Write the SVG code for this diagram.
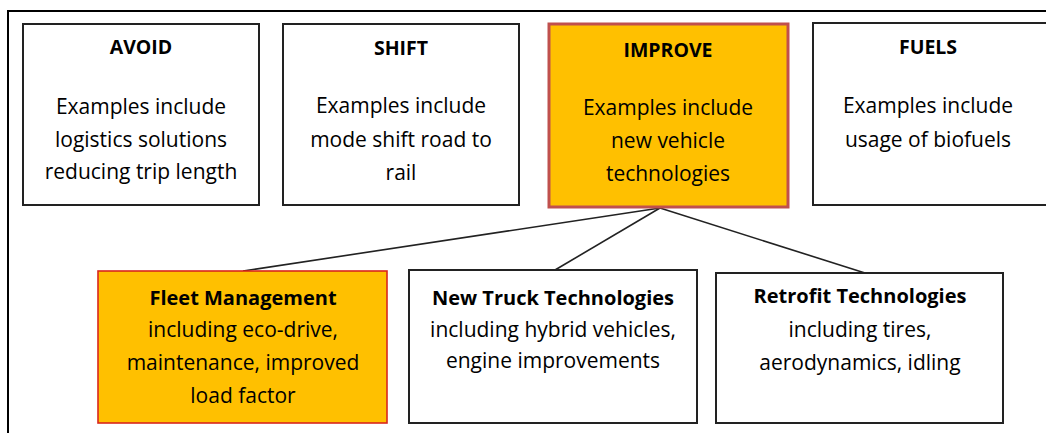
<svg xmlns="http://www.w3.org/2000/svg" width="1046" height="433" viewBox="0 0 1046 433">
  <style>
    .frame { fill: none; stroke: #000; stroke-width: 2; }
    .box { fill: #fff; stroke: #222; stroke-width: 2; }
    .hl { fill: #ffc000; stroke: #c0504d; stroke-width: 3; }
    .hl2 { fill: #ffc000; stroke: #d9261c; stroke-width: 1.6; }
    .link { stroke: #222; stroke-width: 1.6; fill: none; }
    text { font-family: "Open Sans", "Liberation Sans", sans-serif; font-size: 21px; fill: #000; text-anchor: middle; }
    .t { font-weight: bold; font-size: 19.5px; }
    .tb { font-weight: bold; font-size: 20px; }
  </style>
  <rect class="frame" x="8" y="11" width="1060" height="440"/>
  <g id="connectors">
    <line class="link" x1="660" y1="208" x2="243" y2="271"/>
    <line class="link" x1="660" y1="208" x2="555" y2="270"/>
    <line class="link" x1="660" y1="208" x2="865" y2="273"/>
  </g>
  <g id="avoid">
    <rect class="box" x="23" y="24" width="236" height="181"/>
    <text class="t" x="141" y="54">AVOID</text>
    <text x="141" y="114">Examples include</text>
    <text x="141" y="147">logistics solutions</text>
    <text x="141" y="179">reducing trip length</text>
  </g>
  <g id="shift">
    <rect class="box" x="283" y="24" width="236" height="181"/>
    <text class="t" x="401" y="55">SHIFT</text>
    <text x="401" y="113">Examples include</text>
    <text x="401" y="147">mode shift road to</text>
    <text x="401" y="180">rail</text>
  </g>
  <g id="improve">
    <rect class="hl" x="549" y="24" width="239" height="183"/>
    <text class="t" x="668" y="57">IMPROVE</text>
    <text x="668" y="115">Examples include</text>
    <text x="668" y="148">new vehicle</text>
    <text x="668" y="181">technologies</text>
  </g>
  <g id="fuels">
    <rect class="box" x="813" y="23" width="236" height="182"/>
    <text class="t" x="928" y="54">FUELS</text>
    <text x="928" y="113">Examples include</text>
    <text x="928" y="147">usage of biofuels</text>
  </g>
  <g id="fleet">
    <rect class="hl2" x="98" y="271" width="289" height="152"/>
    <text class="tb" x="243" y="305">Fleet Management</text>
    <text x="243" y="337">including eco-drive,</text>
    <text x="243" y="370">maintenance, improved</text>
    <text x="243" y="403">load factor</text>
  </g>
  <g id="newtruck">
    <rect class="box" x="409" y="270" width="288" height="153"/>
    <text class="tb" x="553" y="305">New Truck Technologies</text>
    <text x="553" y="337">including hybrid vehicles,</text>
    <text x="553" y="368">engine improvements</text>
  </g>
  <g id="retrofit">
    <rect class="box" x="716" y="273" width="287" height="150"/>
    <text class="tb" x="860" y="303">Retrofit Technologies</text>
    <text x="860" y="337">including tires,</text>
    <text x="860" y="370">aerodynamics, idling</text>
  </g>
</svg>
